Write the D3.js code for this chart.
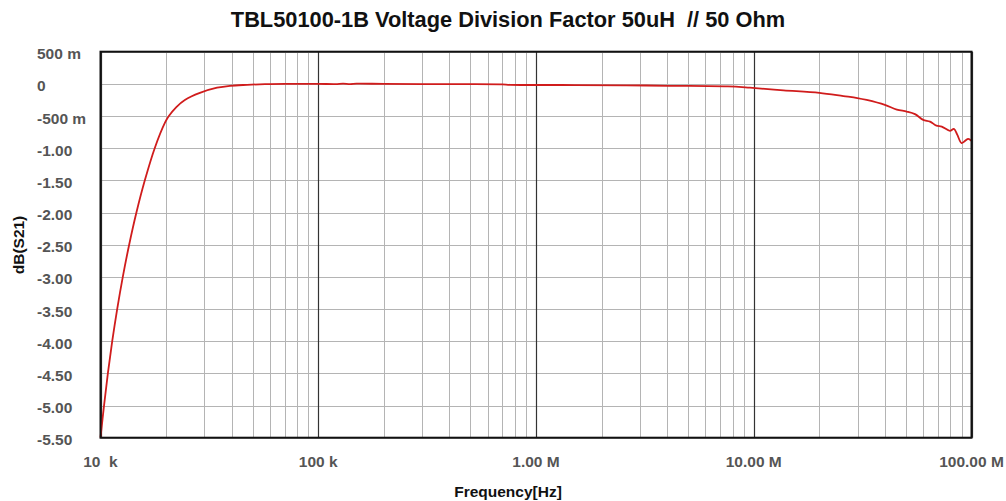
<!DOCTYPE html>
<html>
<head>
<meta charset="utf-8">
<script src="https://cdn.jsdelivr.net/npm/d3@7"></script>
<style>
  html, body { margin: 0; padding: 0; background: #fff; }
  svg { display: block; font-family: "Liberation Sans", Arial, sans-serif; }
  text { white-space: pre; }
</style>
</head>
<body>
<svg id="chart" width="1006" height="501"></svg>
<script>
// ---- data ----
const freqHz = [
  10000, 10380, 10810, 11320, 11930, 12660, 13540, 14620, 15980, 17740, 19800,
  20600, 22300, 24400, 28600, 34300, 39300, 47100, 57000, 70000,
  100000, 120000, 130000, 140000, 150000, 200000, 400000, 700000, 760000,
  1500000, 2600000, 4100000, 7600000, 9600000,
  13700000, 20000000, 25800000, 29900000, 33000000, 40000000, 45400000,
  50400000, 55000000, 60000000, 64500000, 69000000, 73000000, 79600000,
  83000000, 86000000, 90000000, 93400000, 96600000, 100000000
];
const dBS21 = [
  -5.50, -5.00, -4.50, -4.00, -3.50, -3.00, -2.50, -2.00, -1.50, -1.00, -0.60,
  -0.50, -0.36, -0.25, -0.14, -0.06, -0.03, -0.015, -0.005, 0.0,
  0.0, -0.003, 0.003, -0.003, 0.003, 0.0, -0.005, -0.008, -0.015,
  -0.018, -0.022, -0.03, -0.04, -0.06,
  -0.10, -0.14, -0.19, -0.22, -0.25, -0.327, -0.40,
  -0.43, -0.47, -0.56, -0.586, -0.65, -0.664, -0.73,
  -0.70, -0.79, -0.92, -0.886, -0.855, -0.886
];
const yTicks = [0.5, 0, -0.5, -1, -1.5, -2, -2.5, -3, -3.5, -4, -4.5, -5, -5.5];
const yTickLabels = ["500 m", "0", "-500 m", "-1.00", "-1.50", "-2.00", "-2.50",
  "-3.00", "-3.50", "-4.00", "-4.50", "-5.00", "-5.50"];
const xTicks = [1e4, 1e5, 1e6, 1e7, 1e8];
const xTickLabels = ["10  k", "100 k", "1.00 M", "10.00 M", "100.00 M"];
const titleText = "TBL50100-1B Voltage Division Factor 50uH  // 50 Ohm";
const xTitle = "Frequency[Hz]";
const yTitle = "dB(S21)";

// ---- layout ----
const L = 100.5, R = 971.5, T = 51.7, B = 437.7;
const svg = d3.select("#chart");
const x = d3.scaleLog().domain([1e4, 1e8]).range([L, R]);
const y = d3.scaleLinear().domain([-5.5, 0.5]).range([B, T]);

// minor vertical grid
const minor = [];
for (let d = 1e4; d < 1e8; d *= 10) for (let k = 2; k <= 9; k++) minor.push(d * k);
const g = svg.append("g");
g.selectAll(".vmin").data(minor).enter().append("line")
  .attr("x1", d => Math.round(x(d)) + 0.5).attr("x2", d => Math.round(x(d)) + 0.5)
  .attr("y1", T).attr("y2", B).attr("stroke", "#b4b4b4").attr("stroke-width", 1);
// horizontal grid
g.selectAll(".hg").data(yTicks).enter().append("line")
  .attr("x1", L).attr("x2", R)
  .attr("y1", d => Math.round(y(d)) + 0.5).attr("y2", d => Math.round(y(d)) + 0.5)
  .attr("stroke", "#b4b4b4").attr("stroke-width", 1);
// decade lines
g.selectAll(".vmaj").data(xTicks).enter().append("line")
  .attr("x1", d => Math.round(x(d)) + 0.5).attr("x2", d => Math.round(x(d)) + 0.5)
  .attr("y1", T).attr("y2", B).attr("stroke", "#333").attr("stroke-width", 1.2);

// curve
const pts = freqHz.map((f, i) => [f, dBS21[i]]);
const lineGen = d3.line().x(d => x(d[0])).y(d => y(d[1])).curve(d3.curveCatmullRom.alpha(0.5));
svg.append("path").datum(pts)
  .attr("d", lineGen)
  .attr("fill", "none").attr("stroke", "#d01c1c").attr("stroke-width", 1.8)
  .attr("stroke-linejoin", "round");

// border
svg.append("rect").attr("x", L).attr("y", T).attr("width", R - L).attr("height", B - T)
  .attr("fill", "none").attr("stroke", "#111").attr("stroke-width", 2);

// y tick labels
svg.selectAll(".yl").data(yTicks).enter().append("text")
  .attr("x", 37).attr("y", d => y(d) + 7.5)
  .attr("font-size", 15.5).attr("font-weight", "bold").attr("fill", "#555")
  .text((d, i) => yTickLabels[i]);
// x tick labels
svg.selectAll(".xl").data(xTicks).enter().append("text")
  .attr("x", d => x(d)).attr("y", 467)
  .attr("text-anchor", "middle")
  .attr("font-size", 15.5).attr("font-weight", "bold").attr("fill", "#555")
  .text((d, i) => xTickLabels[i]);

// titles
svg.append("text").attr("x", 508).attr("y", 27).attr("text-anchor", "middle")
  .attr("font-size", 21.8).attr("font-weight", "bold").attr("fill", "#111").text(titleText);
svg.append("text").attr("x", 508).attr("y", 497).attr("text-anchor", "middle")
  .attr("font-size", 15.5).attr("font-weight", "bold").attr("fill", "#111").text(xTitle);
svg.append("text").attr("transform", "translate(24,245) rotate(-90)").attr("text-anchor", "middle")
  .attr("font-size", 15.5).attr("font-weight", "bold").attr("fill", "#111").text(yTitle);
</script>
</body>
</html>
